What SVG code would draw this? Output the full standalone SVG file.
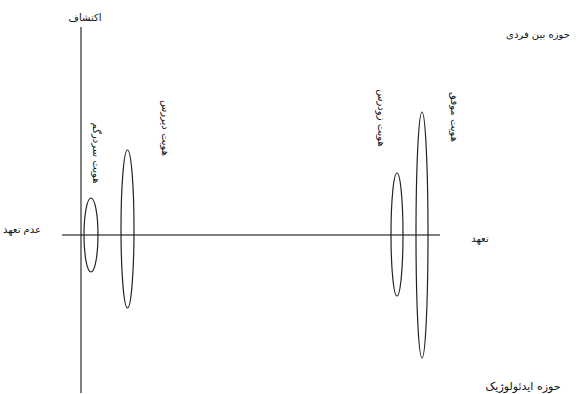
<svg xmlns="http://www.w3.org/2000/svg" width="579" height="394" viewBox="0 0 579 394">
<style>
.ax{stroke:#000;stroke-width:1;fill:none}
.el{stroke:#222;stroke-width:1.2;fill:none}
.t{font-family:"DejaVu Sans",sans-serif;font-size:10px;fill:#111;text-anchor:middle}
</style>
<rect width="579" height="394" fill="#fff"/>
<g id="connectors">
<line class="ax" x1="81" y1="27" x2="81" y2="393"/>
<line class="ax" x1="62" y1="235" x2="440" y2="235"/>
</g>
<g id="diffusion"><ellipse class="el" cx="91" cy="235" rx="7" ry="37"/><text class="t" transform="translate(93,153) rotate(90)">هویت سردرگم</text></g>
<g id="moratorium"><ellipse class="el" cx="127.5" cy="229" rx="6.5" ry="79"/><text class="t" transform="translate(162,128) rotate(90)">هویت دیررس</text></g>
<g id="foreclosure"><ellipse class="el" cx="397" cy="234.5" rx="6" ry="61.5"/><text class="t" transform="translate(378,118) rotate(90)">هویت زودرس</text></g>
<g id="achievement"><ellipse class="el" cx="422" cy="235" rx="6" ry="123"/><text class="t" transform="translate(451,117) rotate(90)">هویت موفق</text></g>
<g id="labels">
<text class="t" x="85" y="21">اکتشاف</text>
<text class="t" x="538" y="38">حوزه بین فردی</text>
<text class="t" x="22" y="233">عدم تعهد</text>
<text class="t" x="480" y="242">تعهد</text>
<text class="t" x="523" y="390" style="font-size:11px">حوزه ایدئولوژیک</text>
</g>
</svg>
